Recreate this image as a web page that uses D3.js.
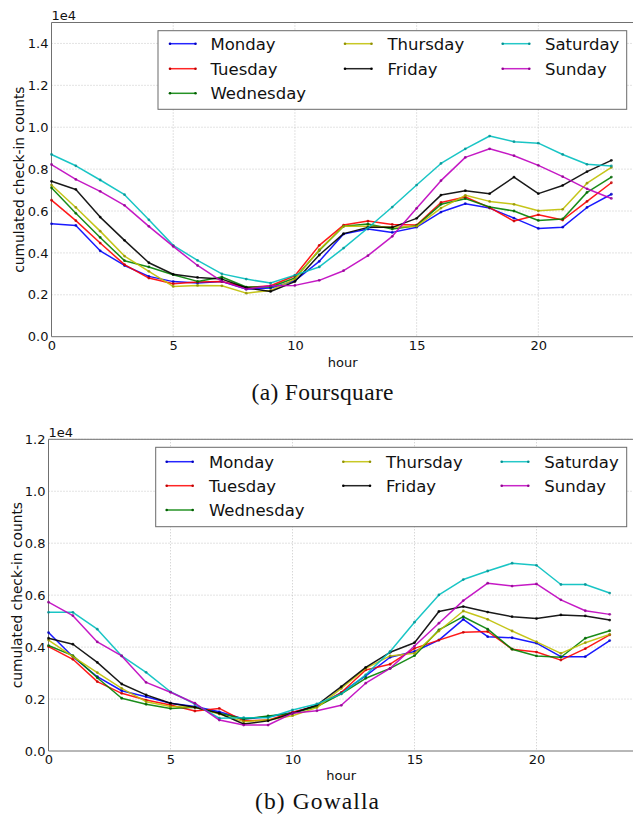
<!DOCTYPE html>
<html>
<head>
<meta charset="utf-8">
<script src="https://cdn.jsdelivr.net/npm/d3@7"></script>
<style>
  html, body { margin: 0; padding: 0; background: #fff; }
  svg { display: block; }
  text { font-family: "DejaVu Sans", sans-serif; }
</style>
</head>
<body>
<svg id="chart" width="633" height="817"></svg>
<script>
// ---------- data (values in units of 1e4 check-ins) ----------
const hours = [0,1,2,3,4,5,6,7,8,9,10,11,12,13,14,15,16,17,18,19,20,21,22,23];
const days = ["Monday","Tuesday","Wednesday","Thursday","Friday","Saturday","Sunday"];
const xTicks = [0,5,10,15,20];
const yTicksFsq = [0.0,0.2,0.4,0.6,0.8,1.0,1.2,1.4];
const yTicksGow = [0.0,0.2,0.4,0.6,0.8,1.0,1.2];
const captions = ["(a) Foursquare","(b) Gowalla"];

const fsqMonday    = [0.539,0.531,0.410,0.340,0.288,0.263,0.256,0.263,0.227,0.232,0.267,0.360,0.490,0.514,0.498,0.523,0.595,0.635,0.614,0.566,0.517,0.523,0.617,0.680];
const fsqTuesday   = [0.652,0.554,0.447,0.344,0.280,0.253,0.261,0.264,0.235,0.243,0.291,0.436,0.533,0.552,0.536,0.533,0.641,0.667,0.616,0.552,0.582,0.557,0.646,0.735];
const fsqWednesday = [0.711,0.589,0.474,0.363,0.333,0.296,0.264,0.285,0.237,0.237,0.280,0.412,0.527,0.538,0.514,0.530,0.632,0.659,0.619,0.600,0.555,0.562,0.689,0.762];
const fsqThursday  = [0.724,0.617,0.504,0.385,0.312,0.240,0.245,0.243,0.208,0.221,0.275,0.415,0.527,0.527,0.522,0.527,0.614,0.675,0.646,0.632,0.601,0.608,0.733,0.808];
const fsqFriday    = [0.742,0.703,0.571,0.460,0.353,0.298,0.283,0.275,0.234,0.216,0.263,0.390,0.492,0.522,0.522,0.565,0.676,0.697,0.683,0.762,0.683,0.722,0.788,0.842];
const fsqSaturday  = [0.870,0.816,0.748,0.678,0.558,0.436,0.364,0.300,0.275,0.256,0.294,0.333,0.423,0.519,0.619,0.724,0.827,0.897,0.958,0.931,0.924,0.870,0.823,0.815];
const fsqSunday    = [0.822,0.751,0.694,0.627,0.527,0.431,0.340,0.264,0.227,0.243,0.245,0.269,0.315,0.387,0.479,0.613,0.745,0.856,0.897,0.864,0.818,0.764,0.706,0.660];

const gowMonday    = [0.456,0.363,0.286,0.232,0.209,0.184,0.171,0.151,0.123,0.132,0.148,0.173,0.225,0.289,0.361,0.383,0.427,0.507,0.440,0.436,0.415,0.363,0.363,0.425];
const gowTuesday   = [0.402,0.353,0.267,0.222,0.196,0.177,0.154,0.164,0.116,0.119,0.149,0.173,0.225,0.312,0.334,0.395,0.427,0.457,0.460,0.392,0.381,0.350,0.394,0.447];
const gowWednesday = [0.406,0.367,0.282,0.203,0.180,0.164,0.168,0.145,0.123,0.135,0.145,0.171,0.220,0.280,0.318,0.367,0.466,0.517,0.469,0.392,0.366,0.361,0.434,0.463];
const gowThursday  = [0.427,0.363,0.302,0.241,0.190,0.171,0.168,0.142,0.113,0.119,0.136,0.167,0.241,0.318,0.366,0.376,0.462,0.539,0.507,0.462,0.420,0.376,0.417,0.449];
const gowFriday    = [0.434,0.411,0.341,0.258,0.216,0.184,0.168,0.145,0.104,0.116,0.145,0.177,0.248,0.322,0.380,0.417,0.537,0.556,0.535,0.517,0.510,0.524,0.520,0.504];
const gowSaturday  = [0.534,0.534,0.469,0.366,0.303,0.228,0.181,0.126,0.128,0.128,0.158,0.181,0.220,0.293,0.383,0.496,0.601,0.660,0.693,0.723,0.715,0.641,0.641,0.608];
const gowSunday    = [0.573,0.521,0.420,0.366,0.264,0.226,0.184,0.119,0.100,0.100,0.145,0.155,0.176,0.261,0.318,0.404,0.492,0.579,0.646,0.635,0.643,0.582,0.540,0.526];

// ---------- styles ----------
const colors = ["#0000ff","#ff0000","#008000","#bfbf00","#000000","#00bfbf","#bf00bf"];
// legend placement (matplotlib ncol=3 fills columns 3,2,2)
const legendCol = [0,0,0,1,1,2,2];
const legendRow = [0,1,2,0,1,0,1];

const panels = [
  { series: [fsqMonday,fsqTuesday,fsqWednesday,fsqThursday,fsqFriday,fsqSaturday,fsqSunday],
    yTicks: yTicksFsq, yMax: 1.5,
    left: 51.5, right: 635.7, top: 22.5, bottom: 336.7,
    ylabX: 23.5, hourY: 367, capY: 399.5, capX: 322.5, capLen: 142,
    legend: { x0: 158, y0: 30.7, x1: 626.7, y1: 109.3, rows: [43.7, 68.7, 93.3],
              cols: [{l0:170,l1:195.5,t:210.5},{l0:345,l1:371.5,t:387.5},{l0:502.7,l1:529.3,t:545}] },
    caption: captions[0] },
  { series: [gowMonday,gowTuesday,gowWednesday,gowThursday,gowFriday,gowSaturday,gowSunday],
    yTicks: yTicksGow, yMax: 1.2,
    left: 48.5, right: 634.1, top: 439.3, bottom: 751,
    ylabX: 21.5, hourY: 779.5, capY: 809, capX: 317, capLen: 124,
    legend: { x0: 155.7, y0: 447.3, x1: 626.7, y1: 526.7, rows: [461.7, 485.7, 510],
              cols: [{l0:166.7,l1:192.7,t:209},{l0:343.3,l1:370,t:386},{l0:501.7,l1:528.3,t:544.3}] },
    caption: captions[1] }
];

const svg = d3.select("#chart");
const spineColor = "#707070";

panels.forEach(p => {
  const g = svg.append("g");
  const x = d3.scaleLinear().domain([0, 24]).range([p.left, p.right]);
  const y = d3.scaleLinear().domain([0, p.yMax]).range([p.bottom, p.top]);

  // grid
  g.append("g").selectAll("line").data(p.yTicks.filter(v => v > 0)).join("line")
    .attr("x1", p.left).attr("x2", p.right)
    .attr("y1", d => y(d)).attr("y2", d => y(d))
    .attr("stroke", "#b8b8b8").attr("stroke-width", 0.8).attr("stroke-dasharray", "1,2");
  g.append("g").selectAll("line").data(xTicks.filter(v => v > 0)).join("line")
    .attr("x1", d => x(d)).attr("x2", d => x(d))
    .attr("y1", p.top).attr("y2", p.bottom)
    .attr("stroke", "#b8b8b8").attr("stroke-width", 0.8).attr("stroke-dasharray", "1,2");

  // axes via d3
  const xAxis = d3.axisBottom(x).tickValues(xTicks).tickSize(0).tickPadding(4).tickFormat(d3.format("d"));
  const gx = g.append("g").attr("transform", `translate(0,${p.bottom})`).call(xAxis);
  gx.select(".domain").remove();
  gx.selectAll("text").attr("font-size", 13).attr("fill", "#111").attr("font-family", "DejaVu Sans");

  const yAxis = d3.axisLeft(y).tickValues(p.yTicks).tickSize(0).tickPadding(3).tickFormat(d3.format(".1f"));
  const gy = g.append("g").attr("transform", `translate(${p.left},0)`).call(yAxis);
  gy.select(".domain").remove();
  gy.selectAll("text").attr("font-size", 13).attr("fill", "#111").attr("font-family", "DejaVu Sans");

  // spines
  g.append("line").attr("x1", p.left).attr("x2", p.right).attr("y1", p.top).attr("y2", p.top)
    .attr("stroke", spineColor).attr("stroke-width", 1);
  g.append("line").attr("x1", p.left).attr("x2", p.right).attr("y1", p.bottom).attr("y2", p.bottom)
    .attr("stroke", spineColor).attr("stroke-width", 1);
  g.append("line").attr("x1", p.left).attr("x2", p.left).attr("y1", p.top).attr("y2", p.bottom)
    .attr("stroke", spineColor).attr("stroke-width", 1);

  // series
  const line = d3.line().x((d, i) => x(hours[i])).y(d => y(d));
  p.series.forEach((s, k) => {
    g.append("path").datum(s).attr("d", line)
      .attr("fill", "none").attr("stroke", colors[k]).attr("stroke-width", 1.5)
      .attr("stroke-linejoin", "round").attr("opacity", 0.9);
    g.append("g").selectAll("circle").data(s).join("circle")
      .attr("cx", (d, i) => x(hours[i])).attr("cy", d => y(d)).attr("r", 1.4)
      .attr("fill", d3.color(colors[k]).darker(0.8).formatHex())
      .attr("opacity", 0.8);
  });

  // offset text "1e4"
  g.append("text").attr("x", p.left).attr("y", p.top - 2.5).attr("font-size", 13)
    .attr("fill", "#111").text("1e4");

  // x label
  g.append("text").attr("x", (p.left + 634) / 2).attr("y", p.hourY).attr("text-anchor", "middle")
    .attr("font-size", 13).attr("fill", "#111").text("hour");

  // y label
  g.append("text").attr("transform", `translate(${p.ylabX},${(p.top + p.bottom) / 2}) rotate(-90)`)
    .attr("text-anchor", "middle").attr("font-size", 13.8).attr("fill", "#111")
    .text("cumulated check-in counts");

  // legend
  const L = p.legend;
  g.append("rect").attr("x", L.x0).attr("y", L.y0).attr("width", L.x1 - L.x0).attr("height", L.y1 - L.y0)
    .attr("fill", "#fff").attr("stroke", "#6a6a6a").attr("stroke-width", 1);
  days.forEach((dname, k) => {
    const col = L.cols[legendCol[k]];
    const ry = L.rows[legendRow[k]];
    g.append("line").attr("x1", col.l0).attr("x2", col.l1).attr("y1", ry).attr("y2", ry)
      .attr("stroke", colors[k]).attr("stroke-width", 1.5).attr("opacity", 0.85);
    [col.l0, col.l1].forEach(cx => {
      g.append("circle").attr("cx", cx).attr("cy", ry).attr("r", 1.3)
        .attr("fill", d3.color(colors[k]).darker(0.8).formatHex());
    });
    g.append("text").attr("x", col.t).attr("y", ry).attr("dy", "0.36em")
      .attr("font-size", 16.5).attr("fill", "#111").text(dname);
  });

  // caption
  g.append("text").attr("x", p.capX).attr("y", p.capY).attr("text-anchor", "middle")
    .style("font-family", "'Liberation Serif', serif")
    .attr("font-size", 23.5).attr("textLength", p.capLen).attr("lengthAdjust", "spacing")
    .attr("fill", "#111").text(p.caption);
});
</script>
</body>
</html>
